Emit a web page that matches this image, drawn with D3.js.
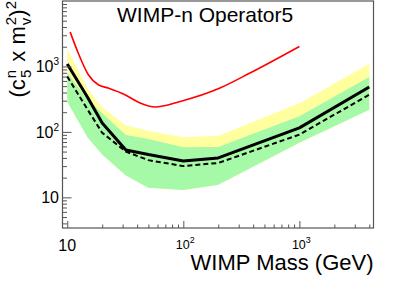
<!DOCTYPE html>
<html>
<head>
<meta charset="utf-8">
<script src="https://cdn.jsdelivr.net/npm/d3@7"></script>
<style>
  body { margin: 0; background: #fff; }
  text { font-family: "Liberation Sans", Arial, Helvetica, sans-serif; fill: #000; }
</style>
</head>
<body>
<div id="chart"></div>
<script>
// DATA
var masses = [10, 15, 20, 32, 50, 100, 200, 1000, 4000];
var observed = [1090, 336, 137, 53, 45, 36, 40, 115, 484];
var expected = [700, 218, 97, 50, 37, 30, 33.5, 91, 370];
var band2Up = [1840, 457, 238, 125, 104, 83, 87, 275, 1098];
var band1Up = [800, 310, 192, 90, 78, 58, 59, 173, 689];
var bandLow = [290, 82, 45, 21.5, 14, 13, 15.6, 68, 218];

var otherMasses = [10.6, 12.4, 15.2, 18.5, 22.5, 31.4, 42.4, 57, 94, 207, 375, 1000];
var otherLimit = [3350, 1620, 747, 525, 468, 370, 276, 240, 292, 468, 792, 2018];

var xMajor = [10, 100, 1000];
var xMinor = [20, 30, 40, 50, 60, 70, 80, 90, 200, 300, 400, 500, 600, 700, 800, 900, 2000, 3000, 4000];
var yMajor = [10, 100, 1000];
var yMinor = [4, 5, 6, 7, 8, 9, 20, 30, 40, 50, 60, 70, 80, 90,
  200, 300, 400, 500, 600, 700, 800, 900, 2000, 3000, 4000, 5000, 6000, 7000, 8000, 9000];

var W = 415, H = 281;
var frame = {left: 62.5, right: 373.5, top: 1, bottom: 228};

var svg = d3.select("#chart").append("svg")
  .attr("width", W)
  .attr("height", H);

var xScale = d3.scaleLog().domain([9.1, 4350]).range([frame.left, frame.right]);
var yScale = d3.scaleLog().domain([3.4, 10000]).range([frame.bottom, frame.top]);

var pts = function(ys) { return masses.map(function(m, i) { return [m, ys[i]]; }); };

//BANDS
var area = function(lo, hi) {
  return d3.area()
    .x(function(d, i) { return xScale(masses[i]); })
    .y0(function(d, i) { return yScale(lo[i]); })
    .y1(function(d, i) { return yScale(hi[i]); });
};

svg.append("path")
  .datum(masses)
  .attr("d", area(bandLow, band2Up))
  .attr("fill", "#ffffa0");

svg.append("path")
  .datum(masses)
  .attr("d", area(bandLow, band1Up))
  .attr("fill", "#a6f9a6");

//LINES
var line = d3.line()
  .x(function(d) { return xScale(d[0]); })
  .y(function(d) { return yScale(d[1]); });

svg.append("path")
  .datum(otherMasses.map(function(m, i) { return [m, otherLimit[i]]; }))
  .attr("d", line.curve(d3.curveMonotoneX))
  .attr("fill", "none")
  .attr("stroke", "#ff0000")
  .attr("stroke-width", 1.6);

line.curve(d3.curveLinear);

svg.append("path")
  .datum(pts(expected))
  .attr("d", line)
  .attr("fill", "none")
  .attr("stroke", "#000")
  .attr("stroke-width", 2)
  .attr("stroke-dasharray", "5,3");

svg.append("path")
  .datum(pts(observed))
  .attr("d", line)
  .attr("fill", "none")
  .attr("stroke", "#000")
  .attr("stroke-width", 3)
  .attr("stroke-linejoin", "round");

//FRAME
svg.append("rect")
  .attr("x", frame.left)
  .attr("y", frame.top)
  .attr("width", frame.right - frame.left)
  .attr("height", frame.bottom - frame.top)
  .attr("fill", "none")
  .attr("stroke", "#555")
  .attr("stroke-width", 1.2);

//AXES (ticks inward, ROOT style)
function ticks(axis, vals, size, transform) {
  var g = svg.append("g")
    .attr("transform", transform)
    .call(axis.tickValues(vals).tickSize(-size).tickFormat(""));
  g.select(".domain").remove();
  g.selectAll("line").attr("stroke", "#555");
}
ticks(d3.axisBottom(xScale), xMajor, 7, `translate(0, ${frame.bottom})`);
ticks(d3.axisBottom(xScale), xMinor, 3.5, `translate(0, ${frame.bottom})`);
ticks(d3.axisLeft(yScale), yMajor, 9, `translate(${frame.left}, 0)`);
ticks(d3.axisLeft(yScale), yMinor, 4.5, `translate(${frame.left}, 0)`);

//TICK LABELS
svg.append("text")
  .attr("x", xScale(10)).attr("y", 251)
  .attr("text-anchor", "middle")
  .style("font-size", "16px")
  .text("10");

xMajor.slice(1).forEach(function(v) {
  var t = svg.append("text")
    .attr("x", xScale(v) + 2).attr("y", 248.5)
    .attr("text-anchor", "middle")
    .style("font-size", "12.5px");
  t.append("tspan").text("10");
  t.append("tspan").attr("dy", -6).style("font-size", "9px").text(Math.round(Math.log10(v)));
});

yMajor.forEach(function(v) {
  var e = Math.round(Math.log10(v));
  var t = svg.append("text")
    .attr("x", 59).attr("y", yScale(v) + 6)
    .attr("text-anchor", "end")
    .style("font-size", "16px");
  t.append("tspan").text("10");
  if (e > 1) {
    t.append("tspan").attr("dy", -7).style("font-size", "10px").text(e);
  }
});

//TITLES
svg.append("text")
  .attr("x", 117).attr("y", 22)
  .style("font-size", "21px")
  .text("WIMP-n Operator5");

svg.append("text")
  .attr("x", frame.right).attr("y", 270)
  .attr("text-anchor", "end")
  .style("font-size", "22px")
  .text("WIMP Mass (GeV)");

var yt = svg.append("text")
  .attr("transform", "translate(25, 1) rotate(-90)")
  .attr("text-anchor", "end")
  .style("font-size", "22px");
yt.append("tspan").text("(c");
yt.append("tspan").attr("dy", -9).attr("dx", 1).style("font-size", "15px").text("n");
yt.append("tspan").attr("dy", 15).attr("dx", -8.3).style("font-size", "15px").text("5");
yt.append("tspan").attr("dy", -6).attr("dx", 2).text(" x m");
yt.append("tspan").attr("dy", -9).attr("dx", 1).style("font-size", "15px").text("2");
yt.append("tspan").attr("dy", 15).attr("dx", -8.3).style("font-size", "15px").text("v");
yt.append("tspan").attr("dy", -6).attr("dx", 1).text(")");
yt.append("tspan").attr("dy", -9).style("font-size", "15px").text("2");
</script>
</body>
</html>
